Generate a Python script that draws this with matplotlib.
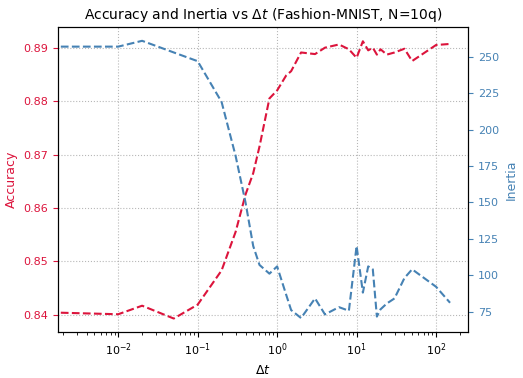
import numpy as np
import matplotlib
matplotlib.use('Agg')
import matplotlib.pyplot as plt

# delta t values (shared by both series)
dt = [0.001, 0.01, 0.02, 0.05, 0.1, 0.2, 0.3, 0.4, 0.5, 0.6, 0.8, 1, 1.3, 1.5,
      2, 3, 4, 6, 8, 10, 12, 14, 16, 18, 20, 24, 30, 40, 50, 100, 150]

accuracy = [0.8405, 0.8401, 0.8417, 0.8393, 0.8419, 0.8483, 0.8555, 0.8625,
            0.8665, 0.8715, 0.8805, 0.8820, 0.8848, 0.8856, 0.8891, 0.8888,
            0.8900, 0.8906, 0.8897, 0.8881, 0.8912, 0.8895, 0.8900, 0.8887,
            0.8897, 0.8887, 0.8891, 0.8898, 0.8875, 0.8905, 0.8907]

inertia = [257, 257, 261, 253, 247, 219, 182, 150, 120, 107, 101, 106, 86.5, 76,
           70.5, 84, 73, 78, 75.5, 120, 88, 106, 104, 71.5, 76.5, 80.5, 84, 98,
           104, 92, 81]

c_acc = 'crimson'
c_in = 'steelblue'

fig, ax1 = plt.subplots(figsize=(5.23, 3.78), dpi=100)
fig.subplots_adjust(left=0.111, right=0.895, top=0.929, bottom=0.122)

ax1.plot(dt, accuracy, '--', color=c_acc)
ax1.set_xscale('log')
ax1.set_xlim(0.00175, 253)
ax1.set_ylim(0.8368, 0.8939)
ax1.set_xlabel(r'$\Delta t$', fontsize=9)
ax1.set_ylabel('Accuracy', color=c_acc, fontsize=9)
ax1.tick_params(axis='both', labelsize=8)
ax1.tick_params(axis='y', labelcolor=c_acc, color=c_acc)
ax1.grid(True, linestyle=':', linewidth=0.8, color='#999999', alpha=0.7)

ax2 = ax1.twinx()
ax2.plot(dt, inertia, '--', color=c_in)
ax2.set_ylim(61, 270.6)
ax2.set_ylabel('Inertia', color=c_in, fontsize=9)
ax2.tick_params(axis='y', labelcolor=c_in, color=c_in, labelsize=8)

plt.title(r'Accuracy and Inertia vs $\Delta t$ (Fashion-MNIST, N=10q)', fontsize=10)
plt.savefig('out.png')
